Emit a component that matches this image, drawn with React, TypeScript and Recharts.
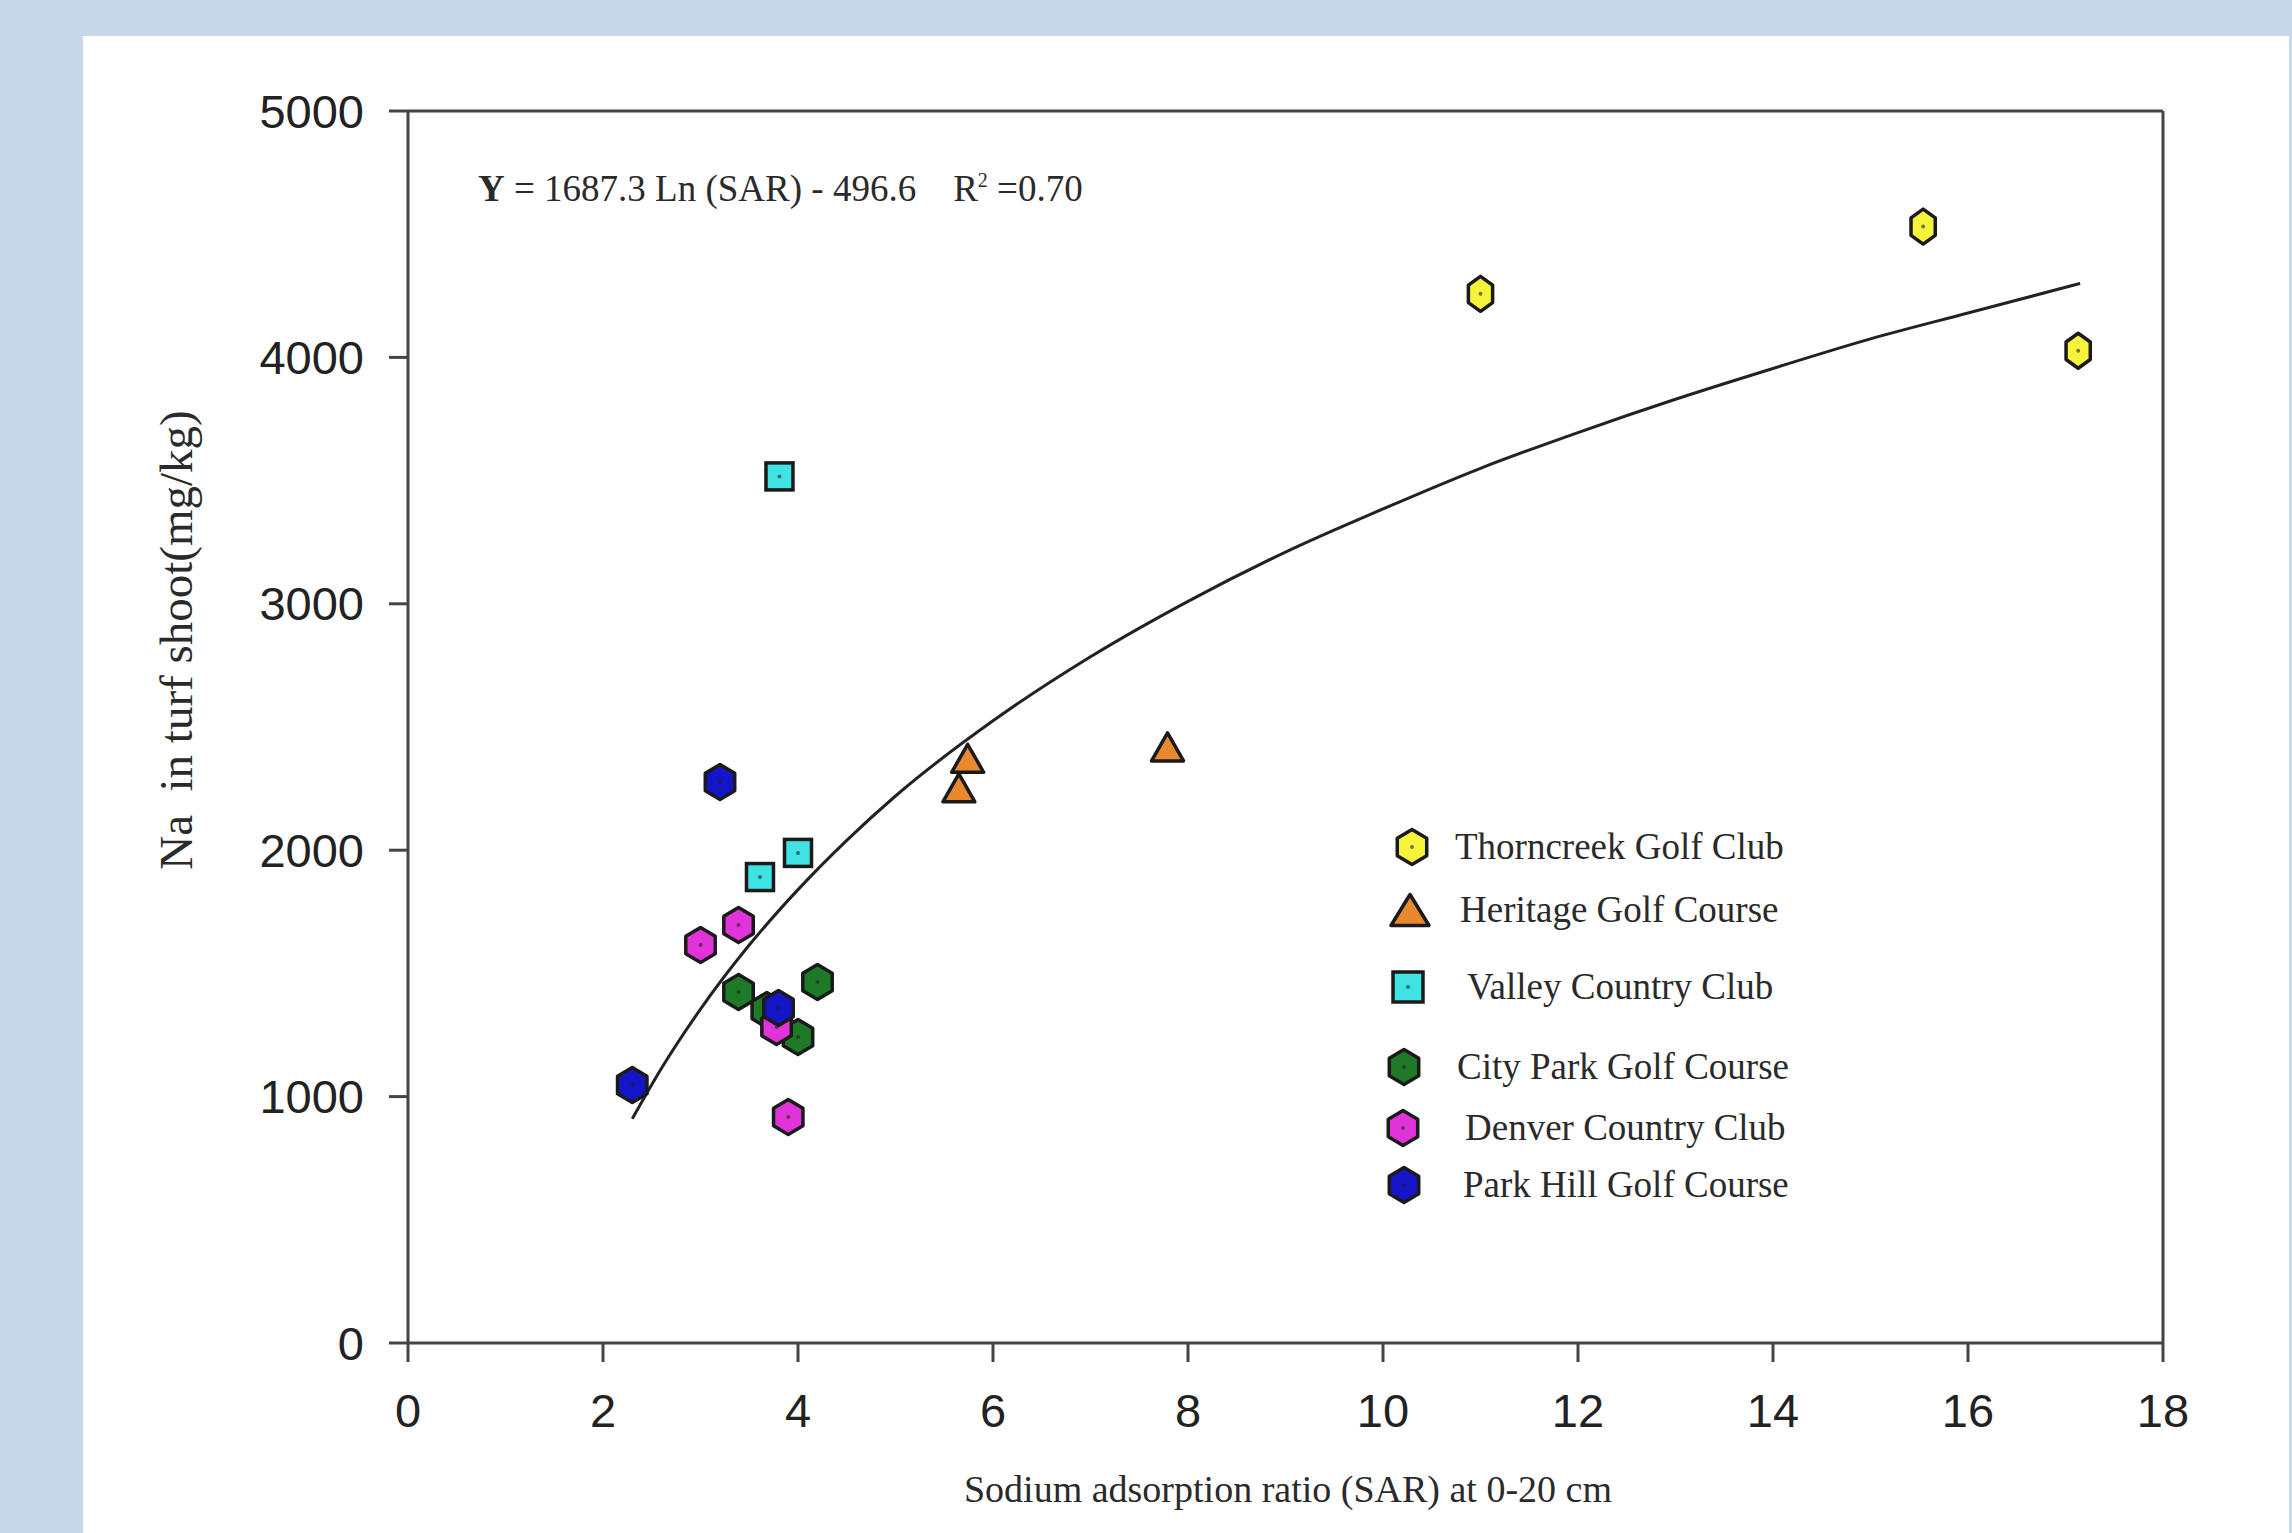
import {
  ComposedChart,
  Scatter,
  Line,
  XAxis,
  YAxis,
  ReferenceLine,
} from "recharts";

// SAR (x) and Na in turf shoot, mg/kg (y)
const thorncreekSar = [11.0, 15.54, 17.13];
const thorncreekNa = [4258, 4531, 4027];

const heritageSar = [5.74, 5.65, 7.79];
const heritageNa = [2373, 2253, 2419];

const valleySar = [3.81, 3.61, 4.0];
const valleyNa = [3517, 1891, 1989];

const cityParkSar = [3.39, 4.2, 3.68, 4.0];
const cityParkNa = [1425, 1465, 1351, 1242];

const denverSar = [3.0, 3.39, 3.78, 3.9];
const denverNa = [1615, 1696, 1282, 917];

const parkHillSar = [3.2, 2.3, 3.8];
const parkHillNa = [2277, 1047, 1360];

// fitted curve as drawn (Y = 1687.3 Ln(SAR) - 496.6)
const curveSar = [2.3, 2.6, 3, 3.5, 4, 4.5, 5, 6, 7, 8, 9, 10, 11, 12, 13, 14, 15, 16, 17.15];
const curveNa = [910, 1115, 1355, 1615, 1840, 2040, 2220, 2525, 2785, 3010, 3210, 3385, 3550, 3695, 3830, 3955, 4075, 4180, 4300];

const xTicks = [0, 2, 4, 6, 8, 10, 12, 14, 16, 18];
const yTicks = [0, 1000, 2000, 3000, 4000, 5000];

const zip = (xs: number[], ys: number[]) => xs.map((x, i) => ({ x, y: ys[i] }));

type Kind = "hex" | "hexTall" | "tri" | "square";

const series: { name: string; kind: Kind; fill: string; data: { x: number; y: number }[] }[] = [
  { name: "Thorncreek Golf Club", kind: "hexTall", fill: "#f6f43a", data: zip(thorncreekSar, thorncreekNa) },
  { name: "Heritage Golf Course", kind: "tri", fill: "#e8892e", data: zip(heritageSar, heritageNa) },
  { name: "Valley Country Club", kind: "square", fill: "#3fe3e3", data: zip(valleySar, valleyNa) },
  { name: "City Park Golf Course", kind: "hex", fill: "#1e7a26", data: zip(cityParkSar, cityParkNa) },
  { name: "Denver Country Club", kind: "hex", fill: "#e033da", data: zip(denverSar, denverNa) },
  { name: "Park Hill Golf Course", kind: "hex", fill: "#1515c8", data: zip(parkHillSar, parkHillNa) },
];

const curve = zip(curveSar, curveNa);

const OUTLINE = "#1a1a1a";
const AXIS = "#444";
const SERIF = "'Liberation Serif', 'Times New Roman', serif";
const SANS = "'Liberation Sans', Arial, sans-serif";

function hexPoints(cx: number, cy: number, rx: number, ry: number) {
  const pts: string[] = [];
  for (let i = 0; i < 6; i++) {
    const a = (Math.PI / 3) * i - Math.PI / 2;
    pts.push(`${cx + rx * Math.cos(a)},${cy + ry * Math.sin(a)}`);
  }
  return pts.join(" ");
}

function Marker({ kind, fill, cx, cy, legend = false }: { kind: Kind; fill: string; cx: number; cy: number; legend?: boolean }) {
  if (cx == null || cy == null) return null;
  const dot = <circle cx={cx} cy={cy} r={2} fill="#222" opacity={0.6} />;
  if (kind === "tri") {
    const w = legend ? 38 : 32;
    const h = legend ? 31 : 28;
    return (
      <polygon
        points={`${cx},${cy - h / 2} ${cx + w / 2},${cy + h / 2} ${cx - w / 2},${cy + h / 2}`}
        fill={fill}
        stroke={OUTLINE}
        strokeWidth={3.5}
        strokeLinejoin="round"
      />
    );
  }
  if (kind === "square") {
    const s = legend ? 30 : 27;
    return (
      <g>
        <rect x={cx - s / 2} y={cy - s / 2} width={s} height={s} fill={fill} stroke={OUTLINE} strokeWidth={3.5} />
        {dot}
      </g>
    );
  }
  const rx = kind === "hexTall" && !legend ? 14 : 17;
  const ry = kind === "hexTall" && !legend ? 17.5 : 17.5;
  return (
    <g>
      <polygon points={hexPoints(cx, cy, rx, ry)} fill={fill} stroke={OUTLINE} strokeWidth={3.5} strokeLinejoin="round" />
      {dot}
    </g>
  );
}

// legend rows in page pixels
const legendRows = [
  { top: 847, mx: 1412, tx: 1455 },
  { top: 910, mx: 1410, tx: 1460 },
  { top: 987, mx: 1408, tx: 1467 },
  { top: 1067, mx: 1404, tx: 1457 },
  { top: 1128, mx: 1403, tx: 1465 },
  { top: 1185, mx: 1404, tx: 1463 },
];

export default function App() {
  return (
    <div style={{ position: "absolute", left: 0, top: 0, width: 2292, height: 1533, background: "#c8d7ea", overflow: "hidden" }}>
      <div style={{ position: "absolute", left: 83, top: 36, width: 2206, height: 1497, background: "#fff" }} />
      <div style={{ position: "absolute", left: 0, top: 0 }}>
        <ComposedChart width={2292} height={1533} margin={{ top: 111, right: 129, bottom: 130, left: 258 }}>
          <XAxis
            dataKey="x"
            type="number"
            domain={[0, 18]}
            ticks={xTicks}
            height={60}
            stroke={AXIS}
            strokeWidth={3}
            tickSize={19}
            tickMargin={32}
            tick={{ fill: "#222", fontSize: 47, fontFamily: SANS }}
            label={{
              content: () => (
                <text x={1288} y={1502} textAnchor="middle" fontFamily={SERIF} fontSize={38} fill="#2a2a2a">
                  Sodium adsorption ratio (SAR) at 0-20 cm
                </text>
              ),
            }}
          />
          <YAxis
            dataKey="y"
            type="number"
            domain={[0, 5000]}
            ticks={yTicks}
            width={150}
            stroke={AXIS}
            strokeWidth={3}
            tickSize={19}
            tickMargin={25}
            tick={{ fill: "#222", fontSize: 47, fontFamily: SANS }}
            label={{
              content: () => (
                <text
                  x={192}
                  y={640}
                  textAnchor="middle"
                  transform="rotate(-90 192 640)"
                  fontFamily={SERIF}
                  fontSize={47}
                  fill="#2a2a2a"
                  style={{ whiteSpace: "pre" }}
                >
                  {"Na  in turf shoot(mg/kg)"}
                </text>
              ),
            }}
          />
          <ReferenceLine y={5000} stroke={AXIS} strokeWidth={3} />
          <ReferenceLine x={18} stroke={AXIS} strokeWidth={3} />
          <Line
            data={curve}
            dataKey="y"
            type="monotone"
            stroke="#222"
            strokeWidth={3}
            dot={false}
            activeDot={false}
            legendType="none"
            isAnimationActive={false}
          />
          {series.map((s) => (
            <Scatter
              key={s.name}
              name={s.name}
              data={s.data}
              dataKey="y"
              isAnimationActive={false}
              shape={(p: any) => <Marker kind={s.kind} fill={s.fill} cx={p.cx} cy={p.cy} />}
            />
          ))}
        </ComposedChart>
      </div>

      <svg width={2292} height={1533} style={{ position: "absolute", left: 0, top: 0, pointerEvents: "none" }}>
        <text x={478} y={201} fontFamily={SERIF} fontSize={37} fill="#2a2a2a" style={{ whiteSpace: "pre" }}>
          <tspan fontWeight="bold">Y</tspan>
          <tspan>{" = 1687.3 Ln (SAR) - 496.6    R"}</tspan>
          <tspan dy={-14} fontSize={20}>2</tspan>
          <tspan dy={14}>{" =0.70"}</tspan>
        </text>
        {series.map((s, i) => (
          <g key={s.name}>
            <Marker kind={s.kind} fill={s.fill} cx={legendRows[i].mx} cy={legendRows[i].top} legend />
            <text x={legendRows[i].tx} y={legendRows[i].top + 12} fontFamily={SERIF} fontSize={37} fill="#2a2a2a">
              {s.name}
            </text>
          </g>
        ))}
      </svg>
    </div>
  );
}
